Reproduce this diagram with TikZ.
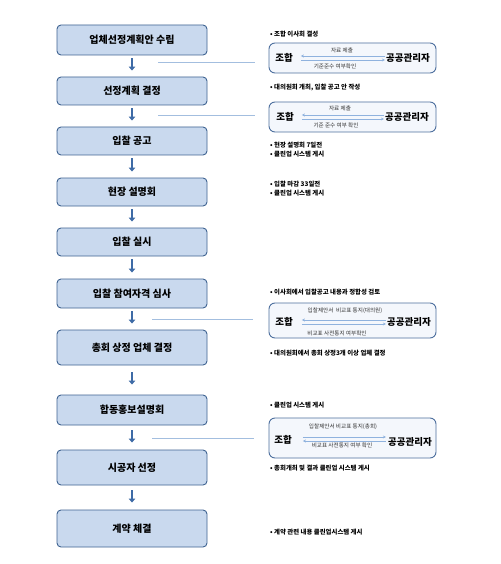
\documentclass[tikz,border=0pt]{standalone}
\usepackage{fontspec}
\setmainfont{Noto Sans CJK KR}
\usetikzlibrary{arrows.meta}
\definecolor{stagefill}{HTML}{C9D9EE}
\definecolor{stagedraw}{HTML}{3F6391}
\definecolor{flowblue}{HTML}{3E6BA6}
\definecolor{linkblue}{HTML}{A3BEDF}
\definecolor{rfill}{HTML}{F4F7FC}
\definecolor{rdraw}{HTML}{4D6F9E}
\definecolor{pairblue}{HTML}{8FB2DE}
\begin{document}
\begin{tikzpicture}[x=1pt,y=-1pt,
  stage/.style={draw=stagedraw, line width=0.9pt, fill=stagefill, rounded corners=4pt,
    minimum width=150pt, inner sep=0pt, font=\fontsize{10}{12}\selectfont\bfseries},
  flow/.style={draw=flowblue, line width=2.6pt, -{Triangle[width=6.5pt,length=4pt]},
    shorten <=3pt, shorten >=6pt},
  link/.style={draw=linkblue, line width=0.9pt},
  rbox/.style={draw=rdraw, line width=0.9pt, fill=rfill, rounded corners=6pt,
    minimum width=167pt, inner sep=0pt},
  party/.style={inner sep=0pt, font=\fontsize{9.5}{11}\selectfont\bfseries},
  pair/.style={draw=pairblue, line width=0.7pt},
  plabel/.style={inner sep=0pt, text=black!80, font=\fontsize{5.6}{6.5}\selectfont},
  bullet/.style={anchor=west, inner sep=0pt, align=left, font=\fontsize{6.4}{8.8}\selectfont\bfseries}
]
\useasboundingbox (0,0) rectangle (500,564);
\fill[white] (0,0) rectangle (500,564);

% stages
\node[stage, minimum height=30pt] (s1) at (132,40) {업체선정계획안 수립};
\node[stage, minimum height=28pt] (s2) at (132,91) {선정계획 결정};
\node[stage, minimum height=28pt] (s3) at (132,141) {입찰 공고};
\node[stage, minimum height=28pt] (s4) at (132,192) {현장 설명회};
\node[stage, minimum height=28pt] (s5) at (132,242) {입찰 실시};
\node[stage, minimum height=29pt] (s6) at (132,293.5) {입찰 참여자격 심사};
\node[stage, minimum height=35pt] (s7) at (132,347.5) {총회 상정 업체 결정};
\node[stage, minimum height=30pt] (s8) at (132,410) {합동홍보설명회};
\node[stage, minimum height=35pt] (s9) at (132,467.5) {시공자 선정};
\node[stage, minimum height=37pt] (s10) at (132,528.5) {계약 체결};

\draw[flow] (s1) -- (s2);
\draw[flow] (s2) -- (s3);
\draw[flow] (s3) -- (s4);
\draw[flow] (s4) -- (s5);
\draw[flow] (s5) -- (s6);
\draw[flow] (s6) -- (s7);
\draw[flow, shorten <=7pt, shorten >=10pt] (s7) -- (s8);
\draw[flow, shorten <=5pt, shorten >=7pt] (s8) -- (s9);
\draw[flow, shorten <=5pt, shorten >=7pt] (s9) -- (s10);

% right boxes
\node[rbox, minimum height=30pt] (r1) at (352.5,58) {};
\node[rbox, minimum height=30pt] (r2) at (352.5,117) {};
\node[rbox, minimum height=35pt] (r3) at (352.5,320.5) {};
\node[rbox, minimum height=40pt] (r4) at (352.5,438) {};

% link lines
\coordinate (h1) at (158,62);
\coordinate (h2) at (158,115);
\coordinate (h3) at (152,319);
\coordinate (h4) at (152,438);
\draw[link] (h1) -- ([xshift=-14pt]r1.west |- h1);
\draw[link] (h2) -- ([xshift=-14pt]r2.west |- h2);
\draw[link] (h3) -- ([xshift=-16pt]r3.west |- h3);
\draw[link] (h4) -- ([xshift=-15pt]r4.west |- h4);

% box 1
\node[party] (j1) at (284,58) {조합};
\node[party] (g1) at (408,58) {공공관리자};
\draw[pair, {Stealth[length=3pt,width=3pt]}-] ([shift={(8pt,2pt)}]j1.east) -- ([shift={(-1pt,2pt)}]g1.west);
\draw[pair, -{Stealth[length=3pt,width=3pt]}] ([shift={(8pt,-2pt)}]j1.east) -- ([shift={(-1pt,-2pt)}]g1.west);
\node[plabel] (a1) at (342,50) {자료 제출};
\node[plabel] (b1) at (335,66) {기준준수 여부확인};

% box 2
\node[party] (j2) at (285,117) {조합};
\node[party] (g2) at (407,117) {공공관리자};
\draw[pair, {Stealth[length=3pt,width=3pt]}-] ([shift={(8pt,2pt)}]j2.east) -- ([shift={(-1pt,2pt)}]g2.west);
\draw[pair, -{Stealth[length=3pt,width=3pt]}] ([shift={(8pt,-2pt)}]j2.east) -- ([shift={(-1pt,-2pt)}]g2.west);
\node[plabel] (a2) at (340,108) {자료 제출};
\node[plabel] (b2) at (336,125) {기준 준수 여부 확인};

% box 3
\node[party] (j3) at (284,322) {조합};
\node[party] (g3) at (409,322) {공공관리자};
\draw[pair, {Stealth[length=3pt,width=3pt]}-] ([shift={(9pt,2pt)}]j3.east) -- ([shift={(-1pt,2pt)}]g3.west);
\draw[pair, -{Stealth[length=3pt,width=3pt]}] ([shift={(9pt,-2pt)}]j3.east) -- ([shift={(-1pt,-2pt)}]g3.west);
\node[plabel] (a3) at (345,311) {입찰제안서 \ 비교표 통지(대의원)};
\node[plabel] (b3) at (337,333) {비교표 사전통지 여부확인};

% box 4
\node[party] (j4) at (283,440) {조합};
\node[party] (g4) at (410,442) {공공관리자};
\draw[pair, -{Stealth[length=3pt,width=3pt]}] ([shift={(11pt,3pt)}]j4.east) -- ([shift={(-2pt,5pt)}]g4.west);
\draw[pair, {Stealth[length=3pt,width=3pt]}-] ([shift={(11pt,-1pt)}]j4.east) -- ([shift={(-2pt,1pt)}]g4.west);
\node[plabel] (a4) at (343,427) {입찰제안서 비교표 통지(총회)};
\node[plabel] (b4) at (342,445.5) {비교표 사전통지 여부 확인};

% bullet notes
\node[bullet] (n1) at (270,34) {• 조합 이사회 결성};
\node[bullet] (n2) at (270,88) {• 대의원회 개최, 입찰 공고 안 작성};
\node[bullet] (n3) at (270,149.5) {• 현장 설명회 7일전\\• 클린업 시스템 게시};
\node[bullet] (n4) at (270,188.5) {• 입찰 마감 33일전\\• 클린업 시스템 게시};
\node[bullet] (n5) at (270,292) {• 이사회에서 입찰공고 내용과 정합성 검토};
\node[bullet] (n6) at (270,353) {• 대의원회에서 총회 상정3개 이상 업체 결정};
\node[bullet] (n7) at (270,405) {• 클린업 시스템 게시};
\node[bullet] (n8) at (270,468) {• 총회개최 및 결과 클린업 시스템 게시};
\node[bullet] (n9) at (270,532) {• 계약 관련 내용 클린업시스템 게시};
\end{tikzpicture}
\end{document}
